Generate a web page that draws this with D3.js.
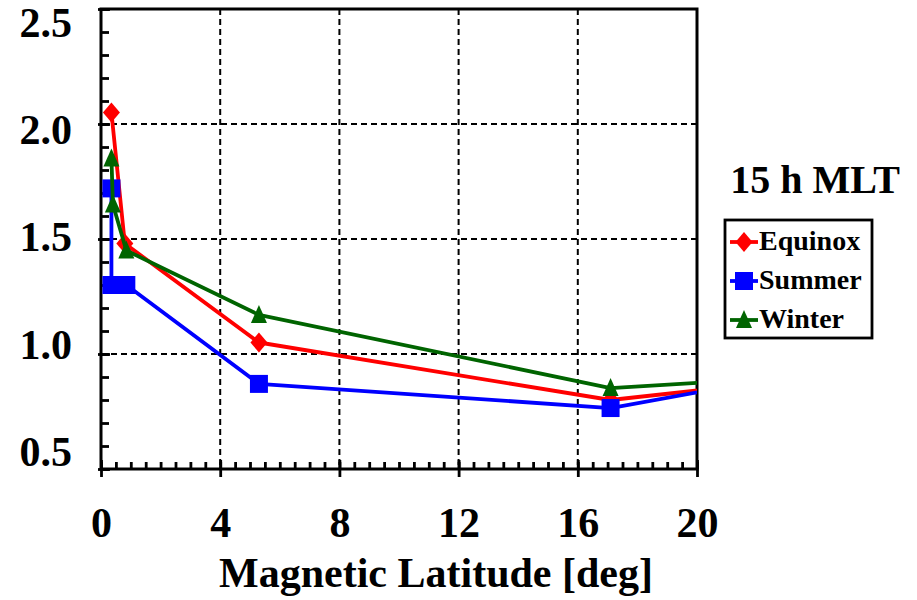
<!DOCTYPE html>
<html>
<head>
<meta charset="utf-8">
<script src="https://cdn.jsdelivr.net/npm/d3@7"></script>
<style>
  body { margin: 0; background: #fff; }
  svg { font-family: "Liberation Serif", "Times New Roman", serif; font-weight: bold; }
</style>
</head>
<body>
<div id="chart"></div>
<script>
// values (last point lies past 20 deg and gets clipped)
var equinoxLat = [0.35, 0.8, 5.3, 17.1, 22];
var equinoxVal = [2.05, 1.48, 1.05, 0.80, 0.87];

var summerLat = [0.35, 0.35, 0.85, 5.3, 17.1, 22];
var summerVal = [1.72, 1.30, 1.30, 0.87, 0.765, 0.88];

var winterLat = [0.35, 0.4, 0.85, 5.3, 17.1, 22];
var winterVal = [1.85, 1.65, 1.45, 1.17, 0.852, 0.89];

var xTicks = [0, 4, 8, 12, 16, 20];
var yTicks = [0.5, 1.0, 1.5, 2.0, 2.5];
var seriesNames = ["Equinox", "Summer", "Winter"];
var seriesColors = ["#ff0000", "#0000ff", "#006400"];
var title = "15 h MLT";
var xTitle = "Magnetic Latitude [deg]";

var svgWidth = 917;
var svgHeight = 600;
var margin = { top: 9, right: 220, bottom: 131, left: 101 };
var width = svgWidth - margin.left - margin.right;
var height = svgHeight - margin.top - margin.bottom;

var svg = d3.select("#chart")
  .append("svg")
  .attr("width", svgWidth)
  .attr("height", svgHeight);

var chartGroup = svg.append("g")
  .attr("transform", `translate(${margin.left}, ${margin.top})`);

var xScale = d3.scaleLinear().domain([0, 20]).range([0, width]);
var yScale = d3.scaleLinear().domain([0.5, 2.5]).range([height, 0]);
// the tick labels in the original sit a bit off the grid
var yLabelScale = d3.scaleLinear().domain([0.5, 2.5]).range([height - 18, 12.5]);

// dashed grid
chartGroup.append("g")
  .selectAll("line.vgrid")
  .data(xTicks.slice(1, -1))
  .enter()
  .append("line")
  .attr("x1", d => xScale(d))
  .attr("x2", d => xScale(d))
  .attr("y1", 0)
  .attr("y2", height)
  .attr("stroke", "#000")
  .attr("stroke-width", 2)
  .attr("stroke-dasharray", "6,4");

chartGroup.append("g")
  .selectAll("line.hgrid")
  .data(yTicks.slice(1, -1))
  .enter()
  .append("line")
  .attr("x1", 0)
  .attr("x2", width)
  .attr("y1", d => yScale(d))
  .attr("y2", d => yScale(d))
  .attr("stroke", "#000")
  .attr("stroke-width", 2)
  .attr("stroke-dasharray", "6,4");

// minor ticks (inward)
var xMinor = d3.range(0, 20.001, 0.5);
var yMinor = d3.range(0.5, 2.5001, 0.1);

function styleAxis(g) {
  g.select(".domain").remove();
  g.selectAll("line").attr("stroke", "#000").attr("stroke-width", 2.8);
}

chartGroup.append("g")
  .attr("transform", `translate(0, ${height})`)
  .call(d3.axisBottom(xScale).tickValues(xMinor).tickSize(-7).tickFormat(""))
  .call(styleAxis);

chartGroup.append("g")
  .call(d3.axisLeft(yScale).tickValues(yMinor).tickSize(-8).tickFormat(""))
  .call(styleAxis);

// major ticks crossing the axes
chartGroup.append("g")
  .attr("transform", `translate(0, ${height})`)
  .call(d3.axisBottom(xScale).tickValues(xTicks).tickSize(-9).tickFormat(""))
  .call(styleAxis);

var xAxis = chartGroup.append("g")
  .attr("transform", `translate(0, ${height})`)
  .call(d3.axisBottom(xScale).tickValues(xTicks).tickSize(8).tickPadding(4).tickFormat(d3.format("d")))
  .call(styleAxis);

xAxis.selectAll("text")
  .attr("y", 68)
  .attr("dy", 0)
  .attr("fill", "#000")
  .attr("font-size", "42px")
  .attr("font-family", "Liberation Serif, Times New Roman, serif")
  .attr("font-weight", "bold");

chartGroup.append("g")
  .call(d3.axisLeft(yScale).tickValues(yTicks).tickSize(-9).tickFormat(""))
  .call(styleAxis);

var yAxis = chartGroup.append("g")
  .call(d3.axisLeft(yScale).tickValues(yTicks).tickSize(3).tickFormat(d3.format(".1f")))
  .call(styleAxis);

yAxis.selectAll("text")
  .attr("x", -29)
  .attr("y", d => yLabelScale(d) - yScale(d))
  .attr("dy", "0.35em")
  .attr("fill", "#000")
  .attr("font-size", "42px")
  .attr("font-family", "Liberation Serif, Times New Roman, serif")
  .attr("font-weight", "bold");

// frame: left/bottom axis lines and top/right border
chartGroup.append("rect")
  .attr("x", 0)
  .attr("y", 0)
  .attr("width", width)
  .attr("height", height)
  .attr("fill", "none")
  .attr("stroke", "#000")
  .attr("stroke-width", 3);

// clip for the series
svg.append("defs")
  .append("clipPath")
  .attr("id", "plotClip")
  .append("rect")
  .attr("x", 0)
  .attr("y", 0)
  .attr("width", width)
  .attr("height", height);

var markerPaths = [
  "M0,-10L8.5,0L0,10L-8.5,0Z",     // diamond
  "M-9,-9L9,-9L9,9L-9,9Z",         // square
  "M0,-10L8,8L-8,8Z"               // triangle
];

var seriesData = [
  d3.zip(equinoxLat, equinoxVal),
  d3.zip(summerLat, summerVal),
  d3.zip(winterLat, winterVal)
];

var line = d3.line()
  .x(d => xScale(d[0]))
  .y(d => yScale(d[1]));

var plotGroup = chartGroup.append("g")
  .attr("clip-path", "url(#plotClip)");

seriesData.forEach(function(data, i) {
  var g = plotGroup.append("g");

  g.append("path")
    .datum(data)
    .attr("d", line)
    .attr("fill", "none")
    .attr("stroke", seriesColors[i])
    .attr("stroke-width", 3.8)
    .attr("stroke-linejoin", "round");

  g.selectAll("path.marker")
    .data(data)
    .enter()
    .append("path")
    .attr("class", "marker")
    .attr("transform", d => `translate(${xScale(d[0])}, ${yScale(d[1])})`)
    .attr("d", markerPaths[i])
    .attr("fill", seriesColors[i]);
});

// axis title
svg.append("text")
  .attr("x", 436)
  .attr("y", 587)
  .attr("text-anchor", "middle")
  .attr("font-size", "42px")
  .text(xTitle);

// panel title
svg.append("text")
  .attr("x", 815)
  .attr("y", 193)
  .attr("text-anchor", "middle")
  .attr("font-size", "40px")
  .text(title);

// legend
var legend = svg.append("g")
  .attr("transform", "translate(725, 220)");

legend.append("rect")
  .attr("width", 147)
  .attr("height", 118)
  .attr("fill", "#fff")
  .attr("stroke", "#000")
  .attr("stroke-width", 2.8);

var legendRows = legend.selectAll("g.row")
  .data(seriesNames)
  .enter()
  .append("g")
  .attr("transform", (d, i) => `translate(0, ${22 + i * 39})`);

legendRows.append("line")
  .attr("x1", 5)
  .attr("x2", 33)
  .attr("y1", 0)
  .attr("y2", 0)
  .attr("stroke", (d, i) => seriesColors[i])
  .attr("stroke-width", 3.8);

legendRows.append("path")
  .attr("transform", "translate(19, 0)")
  .attr("d", (d, i) => markerPaths[i])
  .attr("fill", (d, i) => seriesColors[i]);

legendRows.append("text")
  .attr("x", 34)
  .attr("y", 8)
  .attr("font-size", "28px")
  .text(d => d);
</script>
</body>
</html>
